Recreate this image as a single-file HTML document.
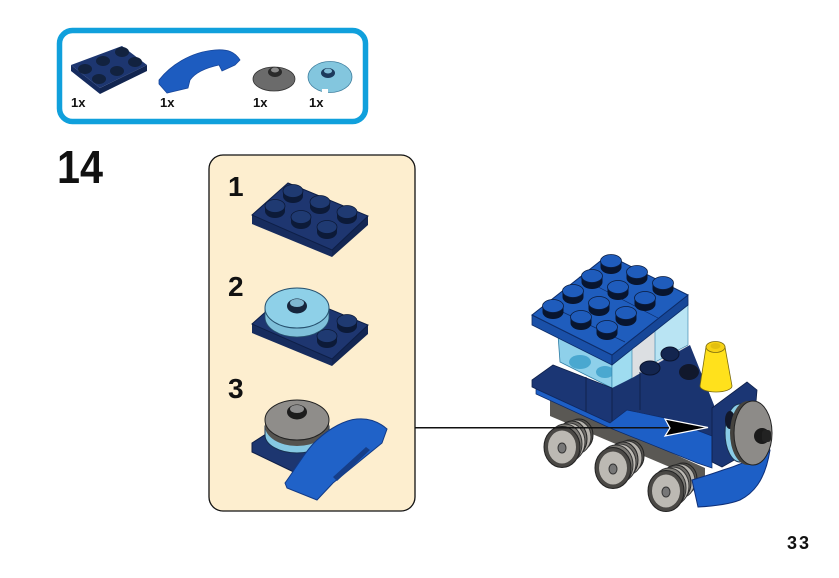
<!DOCTYPE html>
<html><head><meta charset="utf-8"><style>
html,body{margin:0;padding:0;background:#fff;width:839px;height:578px;overflow:hidden}
svg{display:block}
text{font-family:"Liberation Sans",sans-serif;font-weight:bold;fill:#111}
</style></head><body>
<svg width="839" height="578" viewBox="0 0 839 578" xmlns="http://www.w3.org/2000/svg">
<defs>
<g id="ds"><path d="M-10,0 v4 a10,7 0 0 0 20,0 v-4z" fill="#0c1a38"/><ellipse cx="0" cy="-1" rx="10" ry="6.5" fill="#1f3a72" stroke="#0c1a38" stroke-width=".8"/></g>
<g id="bs"><path d="M-10.5,0 v5 a10.5,7 0 0 0 21,0 v-5z" fill="#08152f"/><ellipse cx="0" cy="-1" rx="10.5" ry="6.5" fill="#1f5cbc" stroke="#0b1c3e" stroke-width=".8"/></g>
<g id="plate">
<path d="M252,215 L332,250 L332,257 L252,224z" fill="#172c5e"/>
<path d="M332,250 L368,216 L368,225 L332,257z" fill="#132653"/>
<path d="M252,215 L288,183 L368,216 L332,250z" fill="#1e3670" stroke="#0e1f47" stroke-width="1"/>
</g>
<g id="wheel">
<ellipse cx="17" cy="-12" rx="14" ry="16" fill="#55534f" stroke="#222" stroke-width="1"/>
<ellipse cx="14" cy="-10" rx="15" ry="17" fill="#b5b2ac" stroke="#333" stroke-width="1"/>
<ellipse cx="10" cy="-8" rx="15" ry="18" fill="#6e6c68" stroke="#222" stroke-width="1"/>
<ellipse cx="7" cy="-5" rx="16" ry="19" fill="#bdbab4" stroke="#333" stroke-width="1"/>
<ellipse cx="3" cy="-3" rx="17" ry="20" fill="#7c7a75" stroke="#333" stroke-width="1"/>
<ellipse cx="0" cy="0" rx="18" ry="20.5" fill="#4a4845" stroke="#222" stroke-width="1"/>
<ellipse cx="0" cy="0" rx="14" ry="16.5" fill="#bcb9b3"/>
<ellipse cx="0" cy="1" rx="4" ry="5" fill="#777" stroke="#333" stroke-width="1"/>
</g>
</defs>

<!-- parts box -->
<rect x="59.5" y="30.5" width="306" height="91" rx="13" fill="#fff" stroke="#10a0dc" stroke-width="5.5"/>
<path d="M71,65 L100,88 L100,94 L71,71z" fill="#152b5e"/>
<path d="M100,88 L147,65 L147,71 L100,94z" fill="#122550"/>
<path d="M71,65 L122,46 L147,65 L100,88z" fill="#1d3670"/>
<g fill="#12223f"><ellipse cx="122" cy="52" rx="7" ry="5"/><ellipse cx="135" cy="62" rx="7" ry="5"/><ellipse cx="103" cy="61" rx="7" ry="5"/><ellipse cx="117" cy="71" rx="7" ry="5"/><ellipse cx="85" cy="69" rx="7" ry="5"/><ellipse cx="99" cy="79" rx="7" ry="5"/></g>
<path d="M159,80 C170,66 190,52 215,50 C228,49 235,52 240,60 L235,65 L222,71 L219,65 C205,68 195,73 190,80 L188,88 L167,93 L159,84z" fill="#1d5cc0" stroke="#17469a" stroke-width=".8"/>
<ellipse cx="274" cy="79" rx="21" ry="12" fill="#6b6b6b" stroke="#333" stroke-width=".8"/>
<ellipse cx="275" cy="72" rx="7" ry="5" fill="#2a2a2a"/><ellipse cx="275" cy="70" rx="4" ry="2.5" fill="#8a8a8a"/>
<ellipse cx="330" cy="77" rx="22" ry="15.5" fill="#83c6de" stroke="#3f7f9f" stroke-width=".8"/>
<rect x="322" y="89" width="6" height="5" fill="#fff"/>
<ellipse cx="328" cy="73" rx="7" ry="5" fill="#1c3a5c"/><ellipse cx="328" cy="71" rx="4" ry="2.5" fill="#7fbcd6"/>
<text x="71" y="107" font-size="13">1x</text>
<text x="160" y="107" font-size="13">1x</text>
<text x="253" y="107" font-size="13">1x</text>
<text x="309" y="107" font-size="13">1x</text>

<text x="57" y="183" font-size="46" textLength="46" lengthAdjust="spacingAndGlyphs">14</text>

<!-- callout panel -->
<rect x="209" y="155" width="206" height="356" rx="14" fill="#fdeecf" stroke="#111" stroke-width="1.3"/>
<text x="228" y="196" font-size="28">1</text>
<text x="228" y="296" font-size="28">2</text>
<text x="228" y="398" font-size="28">3</text>

<use href="#plate"/>
<use href="#ds" x="293" y="192"/><use href="#ds" x="320" y="203"/><use href="#ds" x="347" y="213"/>
<use href="#ds" x="275" y="207"/><use href="#ds" x="301" y="218"/><use href="#ds" x="327" y="228"/>

<use href="#plate" y="109"/>
<use href="#ds" x="347" y="322"/><use href="#ds" x="327" y="337"/>
<path d="M265,308 v9 a32,20 0 0 0 64,0 v-9z" fill="#7fc0da" stroke="#26506e" stroke-width=".8"/>
<ellipse cx="297" cy="308" rx="32" ry="20" fill="#8ed0e8" stroke="#26506e" stroke-width="1"/>
<ellipse cx="297" cy="306" rx="10" ry="7.5" fill="#16253c"/><ellipse cx="297" cy="303" rx="7" ry="4" fill="#7fb6cf"/>

<path d="M252,443 L288,420 L345,445 L300,475 L252,452z" fill="#1d3670" stroke="#0e1f47" stroke-width="1"/>
<path d="M265,426 v9 a32,18 0 0 0 64,0 v-9z" fill="#86c8e2" stroke="#173050" stroke-width="1"/>
<path d="M265,420 v6 a32,20 0 0 0 64,0 v-6z" fill="#55534f"/>
<ellipse cx="297" cy="420" rx="32" ry="20" fill="#8f8d8a" stroke="#222" stroke-width="1"/>
<ellipse cx="297" cy="412" rx="10" ry="7.5" fill="#1c1c1c"/><ellipse cx="297" cy="409" rx="7" ry="4" fill="#8c8c8c"/>
<path d="M285,483 C296,468 306,450 317,440 C330,428 345,420 357,419 C368,418 378,421 387,429 L382,443 L333,483 L317,500 L287,488z" fill="#2062c8" stroke="#123a86" stroke-width="1"/>
<path d="M333,477 L366,447 L370,450 L337,481z" fill="#163e88"/>

<!-- train -->
<g>
<!-- glass -->
<path d="M558,335 L560,362 L612,388 L612,350z" fill="#8ed0ea" stroke="#2f7da5" stroke-width=".8"/>
<ellipse cx="580" cy="362" rx="11" ry="7" fill="#4aa8d0"/><ellipse cx="605" cy="372" rx="9" ry="6" fill="#4aa8d0"/>
<path d="M612,350 L688,300 L688,350 L612,390z" fill="#dcdfe2"/>
<path d="M612,355 L632,342 L632,378 L612,390z" fill="#9fdcf0" stroke="#2f7da5" stroke-width=".6"/>
<path d="M655,322 L688,300 L688,345 L655,362z" fill="#b9e4f3" stroke="#2f7da5" stroke-width=".6"/>
<!-- grey chassis -->
<path d="M550,398 L705,468 L705,482 L550,416z" fill="#5a5854"/>
<!-- dark body -->
<path d="M532,380 L553,365 L612,388 L612,424 L532,387z" fill="#1b3674" stroke="#10224c" stroke-width=".8"/>
<path d="M612,388 L632,378 L690,345 L714,405 L714,438 L665,418 L627,410 L612,424z" fill="#1a3470"/>
<path d="M586,377 V412 M612,388 V424 M640,372 V410" stroke="#10224c" stroke-width="1" fill="none"/>
<!-- medium blue band -->
<path d="M536,389 L610,423 L627,410 L665,418 L712,436 L712,468 L697,463 L610,428 L536,394z" fill="#1d5fc6" stroke="#0e2a66" stroke-width=".7"/>
<!-- boiler studs -->
<ellipse cx="650" cy="368" rx="10" ry="7" fill="#13254f" stroke="#0a142e"/>
<ellipse cx="670" cy="354" rx="9" ry="7" fill="#13254f" stroke="#0a142e"/>
<ellipse cx="689" cy="372" rx="10" ry="8" fill="#11182c"/>
<!-- roof -->
<path d="M532,315 L612,355 L612,365 L532,325z" fill="#1a50a8" stroke="#0d2c68" stroke-width=".8"/>
<path d="M612,355 L688,295 L688,305 L612,365z" fill="#174798" stroke="#0d2c68" stroke-width=".8"/>
<path d="M532,315 L608,255 L688,295 L612,355z" fill="#1f5dbd" stroke="#0d2c68" stroke-width="1"/>
<path d="M546,304 L625,342 M579,277 L658,318" stroke="#0d2c68" stroke-width=".7" fill="none"/>
<use href="#bs" x="611" y="262"/><use href="#bs" x="637" y="273"/><use href="#bs" x="663" y="284"/>
<use href="#bs" x="592" y="277"/><use href="#bs" x="618" y="288"/><use href="#bs" x="645" y="299"/>
<use href="#bs" x="573" y="292"/><use href="#bs" x="599" y="304"/><use href="#bs" x="626" y="314"/>
<use href="#bs" x="553" y="307"/><use href="#bs" x="581" y="318"/><use href="#bs" x="607" y="328"/>
<!-- cone -->
<path d="M706,347 L700,386 a16,6 0 0 0 32,0 L725,347z" fill="#ffe11c" stroke="#7a6a10" stroke-width=".8"/>
<ellipse cx="715.5" cy="347" rx="9.5" ry="5.5" fill="#f6d216" stroke="#7a6a10" stroke-width=".8"/>
<ellipse cx="715.5" cy="346" rx="5" ry="3" fill="#e3c010"/>
<!-- wheels -->
<use href="#wheel" x="562" y="447"/>
<use href="#wheel" x="613" y="468"/>
<use href="#wheel" x="666" y="491"/>
<!-- cowcatcher -->
<path d="M692,480 L698,507 C716,506 730,504 740,500 C752,494 765,482 770,450 L768,448 C755,458 740,465 723,470 C712,474 702,477 692,480z" fill="#1d5fc6" stroke="#0e2f78" stroke-width="1"/>
<!-- front plate -->
<path d="M712,408 L747,382 L757,390 L752,450 L722,467 L712,462z" fill="#1b3674" stroke="#0e1f47" stroke-width=".8"/>
<!-- front disc -->
<ellipse cx="740" cy="433" rx="15" ry="29" fill="#8acce6" stroke="#1a3050" stroke-width="1"/>
<ellipse cx="730" cy="420" rx="5" ry="9" fill="#12182a"/>
<ellipse cx="748" cy="433" rx="18" ry="32" fill="#45433f"/>
<ellipse cx="753" cy="433" rx="19" ry="32" fill="#8d8b88" stroke="#222" stroke-width="1"/>
<ellipse cx="762" cy="436" rx="8" ry="8" fill="#1a1a1a"/>
<rect x="762" y="430" width="9" height="12" rx="3" fill="#222"/>
</g>

<!-- arrow -->
<line x1="415" y1="427.7" x2="675" y2="427.7" stroke="#111" stroke-width="1.5"/>
<path d="M665,419 L708,427.5 L665,436 L670,428z" fill="#000" stroke="#fff" stroke-width="1.2"/>

<text x="787" y="549" font-size="18" letter-spacing="2">33</text>
</svg>
</body></html>
